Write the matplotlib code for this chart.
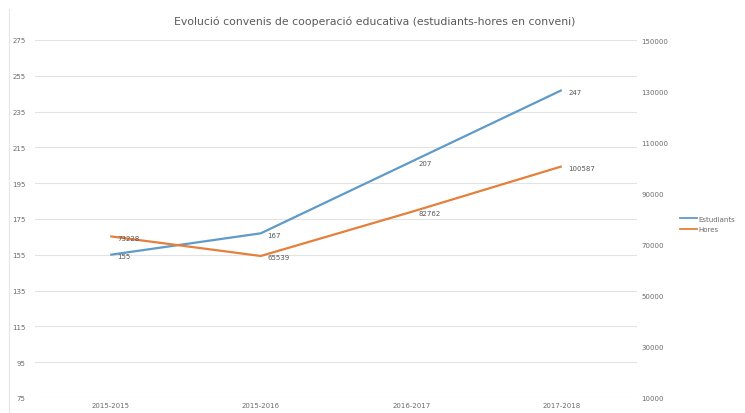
import matplotlib
matplotlib.use("Agg")
import matplotlib.pyplot as plt
from matplotlib.lines import Line2D

# dades
cursos = ["2015-2015", "2015-2016", "2016-2017", "2017-2018"]
estudiants = [155, 167, 207, 247]
hores = [73228, 65539, 82762, 100587]

BLAU = "#5f9ac8"
TARONJA = "#e57f3c"
TEXT = "#6b6b6b"

plt.rcParams["font.family"] = ["DejaVu Sans"]

fig = plt.figure(figsize=(7.45, 4.14), dpi=100)
ax = fig.add_axes([35 / 745, 1 - 399 / 414, 602 / 745, 358 / 414])
ax2 = ax.twinx()

x = range(len(cursos))
ax.plot(x, estudiants, color=BLAU, lw=1.6, solid_capstyle="butt", zorder=3)
ax2.plot(x, hores, color=TARONJA, lw=1.6, solid_capstyle="butt", zorder=3)

for i, v in enumerate(estudiants):
    ax.annotate(str(v), (i, v), xytext=(5, -1), textcoords="offset points",
                fontsize=5, color="#555555", va="center", ha="left")
for i, v in enumerate(hores):
    ax2.annotate(str(v), (i, v), xytext=(5, -1), textcoords="offset points",
                 fontsize=5, color="#555555", va="center", ha="left")

ax.set_xlim(-0.5, len(cursos) - 0.5)
ax.set_ylim(75, 275)
ax.set_yticks(range(75, 276, 20))
ax2.set_ylim(10000, 150000)
ax2.set_yticks(range(10000, 150001, 20000))

ax.set_xticks(list(x))
ax.set_xticklabels(cursos)
ax.grid(axis="y", color="#e3e3e3", lw=0.8)
ax.set_axisbelow(True)

for a in (ax, ax2):
    for s in a.spines.values():
        s.set_visible(False)
    a.tick_params(length=0, labelsize=5, labelcolor=TEXT)
ax.tick_params(axis="y", pad=7)
ax.tick_params(axis="x", pad=3)
ax2.tick_params(axis="y", pad=3)

fig.text(375 / 745, 1 - 22 / 414,
         "Evolució convenis de cooperació educativa (estudiants-hores en conveni)",
         ha="center", va="center", fontsize=7.8, color="#595959")

# vora esquerra tènue
fig.add_artist(Line2D([9 / 745, 9 / 745], [0, 1 - 10 / 414], color="#e6e6e6", lw=0.8))

handles = [Line2D([], [], color=BLAU, lw=1.3), Line2D([], [], color=TARONJA, lw=1.3)]
fig.legend(handles, ["Estudiants", "Hores"], loc="center left",
           bbox_to_anchor=(680 / 745, 1 - 225 / 414), frameon=False,
           fontsize=5, labelcolor=TEXT, handlelength=2.5, handletextpad=0.1,
           labelspacing=0.6, borderaxespad=0, borderpad=0)

fig.savefig("out.png", dpi=100, facecolor="white")
